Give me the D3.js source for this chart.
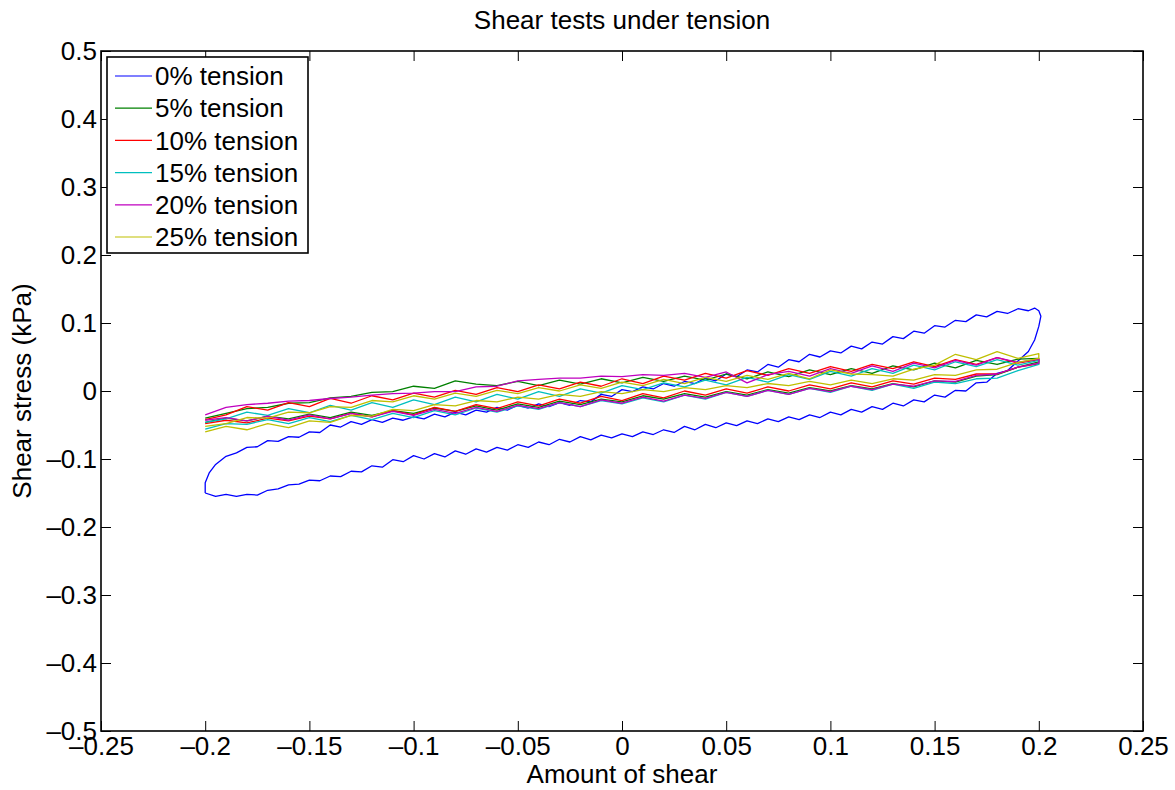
<!DOCTYPE html>
<html><head><meta charset="utf-8">
<script src="https://cdn.jsdelivr.net/npm/d3@7"></script>
<style>
body{margin:0;background:#fff}
text{font-family:"Liberation Sans",Arial,Helvetica,sans-serif;fill:#000}
</style>
</head><body>
<svg id="chart" width="1175" height="790"></svg>
<script>
// ---------- DATA ----------
const title = "Shear tests under tension";
const xLabel = "Amount of shear";
const yLabel = "Shear stress (kPa)";

const xTicks = [-0.25,-0.2,-0.15,-0.1,-0.05,0,0.05,0.1,0.15,0.2,0.25];
const xTickLabels = ["\u20130.25","\u20130.2","\u20130.15","\u20130.1","\u20130.05","0","0.05","0.1","0.15","0.2","0.25"];
const yTicks = [-0.5,-0.4,-0.3,-0.2,-0.1,0,0.1,0.2,0.3,0.4,0.5];
const yTickLabels = ["\u20130.5","\u20130.4","\u20130.3","\u20130.2","\u20130.1","0","0.1","0.2","0.3","0.4","0.5"];

const seriesNames = ["0% tension","5% tension","10% tension","15% tension","20% tension","25% tension"];
const seriesColors = ["#0000ff","#008000","#ff0000","#00bfbf","#bf00bf","#bfbf00"];

// 0% tension loop (shear, stress)
const tension0 = [
[-0.200,-0.150],[-0.195,-0.155],[-0.190,-0.152],[-0.185,-0.155],[-0.180,-0.152],[-0.175,-0.153],
[-0.170,-0.146],[-0.165,-0.144],[-0.160,-0.138],[-0.155,-0.137],[-0.150,-0.131],[-0.145,-0.132],
[-0.140,-0.125],[-0.135,-0.126],[-0.130,-0.118],[-0.125,-0.119],[-0.120,-0.110],[-0.115,-0.112],
[-0.110,-0.101],[-0.105,-0.104],[-0.100,-0.095],[-0.095,-0.100],[-0.090,-0.092],[-0.085,-0.097],
[-0.080,-0.088],[-0.075,-0.093],[-0.070,-0.085],[-0.065,-0.090],[-0.060,-0.083],[-0.055,-0.087],
[-0.050,-0.079],[-0.045,-0.083],[-0.040,-0.075],[-0.035,-0.079],[-0.030,-0.071],[-0.025,-0.075],
[-0.020,-0.067],[-0.015,-0.072],[-0.010,-0.065],[-0.005,-0.069],[0.000,-0.063],[0.005,-0.067],
[0.010,-0.060],[0.015,-0.064],[0.020,-0.057],[0.025,-0.061],[0.030,-0.052],[0.035,-0.057],
[0.040,-0.049],[0.045,-0.054],[0.050,-0.047],[0.055,-0.051],[0.060,-0.044],[0.065,-0.048],
[0.070,-0.041],[0.075,-0.045],[0.080,-0.038],[0.085,-0.042],[0.090,-0.035],[0.095,-0.039],
[0.100,-0.031],[0.105,-0.035],[0.110,-0.027],[0.115,-0.031],[0.120,-0.023],[0.125,-0.027],
[0.130,-0.018],[0.135,-0.022],[0.140,-0.013],[0.145,-0.016],[0.150,-0.006],[0.155,-0.009],
[0.160,0.001],[0.165,0.000],[0.170,0.012],[0.175,0.013],[0.180,0.026],[0.185,0.030],
[0.190,0.044],[0.195,0.058],[0.198,0.075],[0.200,0.095],[0.201,0.110],[0.200,0.118],[0.198,0.122],
[0.195,0.118],[0.190,0.121],[0.185,0.114],[0.180,0.117],[0.175,0.109],[0.170,0.112],
[0.165,0.102],[0.160,0.104],[0.155,0.094],[0.150,0.096],[0.145,0.085],[0.140,0.088],
[0.135,0.077],[0.130,0.080],[0.125,0.069],[0.120,0.072],[0.115,0.062],[0.110,0.066],
[0.105,0.056],[0.100,0.059],[0.095,0.050],[0.090,0.054],[0.085,0.043],[0.080,0.046],
[0.075,0.035],[0.070,0.039],[0.065,0.028],[0.060,0.031],[0.055,0.021],[0.050,0.025],
[0.045,0.015],[0.040,0.019],[0.035,0.011],[0.030,0.014],[0.025,0.007],[0.020,0.011],
[0.015,0.003],[0.010,0.006],[0.005,-0.001],[0.000,0.002],[-0.005,-0.008],[-0.010,-0.005],
[-0.015,-0.016],[-0.020,-0.014],[-0.025,-0.021],[-0.030,-0.017],[-0.035,-0.023],[-0.040,-0.019],
[-0.045,-0.025],[-0.050,-0.021],[-0.055,-0.028],[-0.060,-0.024],[-0.065,-0.031],[-0.070,-0.028],
[-0.075,-0.035],[-0.080,-0.031],[-0.085,-0.038],[-0.090,-0.034],[-0.095,-0.041],[-0.100,-0.038],
[-0.105,-0.043],[-0.110,-0.040],[-0.115,-0.046],[-0.120,-0.042],[-0.125,-0.049],[-0.130,-0.045],
[-0.135,-0.053],[-0.140,-0.050],[-0.145,-0.061],[-0.150,-0.060],[-0.155,-0.068],[-0.160,-0.067],
[-0.165,-0.074],[-0.170,-0.073],[-0.175,-0.082],[-0.180,-0.083],[-0.185,-0.091],[-0.190,-0.096],
[-0.195,-0.108],[-0.198,-0.120],[-0.200,-0.135],[-0.200,-0.150]
];

// shared shear grids for the tension loops
const shearLoad = [-0.20,-0.19,-0.18,-0.17,-0.16,-0.15,-0.14,-0.13,-0.12,-0.11,-0.10,-0.09,-0.08,-0.07,-0.06,-0.05,-0.04,-0.03,-0.02,-0.01,0.00,0.01,0.02,0.03,0.04,0.05,0.06,0.07,0.08,0.09,0.10,0.11,0.12,0.13,0.14,0.15,0.16,0.17,0.18,0.19,0.20];
const shearUnload = [0.20,0.19,0.18,0.17,0.16,0.15,0.14,0.13,0.12,0.11,0.10,0.09,0.08,0.07,0.06,0.05,0.04,0.03,0.02,0.01,0.00,-0.01,-0.02,-0.03,-0.04,-0.05,-0.06,-0.07,-0.08,-0.09,-0.10,-0.11,-0.12,-0.13,-0.14,-0.15,-0.16,-0.17,-0.18,-0.19,-0.20];

const stressLoad5 = [-0.046,-0.040,-0.044,-0.037,-0.041,-0.034,-0.039,-0.031,-0.036,-0.029,-0.033,-0.025,-0.030,-0.022,-0.028,-0.019,-0.024,-0.015,-0.020,-0.012,-0.016,-0.007,-0.012,-0.004,-0.009,-0.001,-0.006,0.002,-0.003,0.005,0.000,0.008,0.003,0.011,0.006,0.015,0.013,0.022,0.024,0.035,0.043];
const stressUnload5 = [0.048,0.047,0.039,0.045,0.034,0.041,0.031,0.037,0.026,0.033,0.024,0.031,0.021,0.028,0.018,0.025,0.016,0.022,0.014,0.020,0.012,0.018,0.010,0.016,0.008,0.014,0.008,0.010,0.015,0.004,0.007,-0.001,-0.002,-0.008,-0.010,-0.017,-0.018,-0.024,-0.026,-0.033,-0.040];

const stressLoad10 = [-0.048,-0.043,-0.047,-0.040,-0.044,-0.037,-0.041,-0.033,-0.038,-0.029,-0.035,-0.024,-0.030,-0.020,-0.026,-0.016,-0.022,-0.012,-0.018,-0.008,-0.014,-0.004,-0.010,0.000,-0.006,0.003,-0.003,0.006,0.000,0.009,0.003,0.012,0.006,0.015,0.010,0.019,0.017,0.025,0.025,0.035,0.040];
const stressUnload10 = [0.046,0.041,0.049,0.039,0.046,0.036,0.043,0.033,0.039,0.029,0.036,0.026,0.033,0.023,0.030,0.019,0.026,0.016,0.022,0.011,0.018,0.007,0.013,0.003,0.009,-0.001,0.005,-0.005,0.001,-0.009,-0.003,-0.013,-0.007,-0.018,-0.011,-0.023,-0.017,-0.028,-0.023,-0.035,-0.042];

const stressLoad15 = [-0.056,-0.048,-0.049,-0.042,-0.048,-0.039,-0.045,-0.036,-0.042,-0.033,-0.039,-0.029,-0.035,-0.025,-0.031,-0.022,-0.027,-0.017,-0.023,-0.014,-0.019,-0.010,-0.016,-0.006,-0.012,-0.002,-0.008,0.001,-0.005,0.004,-0.002,0.007,0.001,0.010,0.004,0.013,0.011,0.018,0.019,0.030,0.039];
const stressUnload15 = [0.045,0.038,0.046,0.036,0.043,0.031,0.038,0.026,0.033,0.022,0.029,0.017,0.024,0.013,0.020,0.009,0.016,0.006,0.012,0.002,0.008,-0.003,0.003,-0.008,-0.001,-0.012,-0.005,-0.016,-0.009,-0.020,-0.013,-0.024,-0.017,-0.028,-0.021,-0.032,-0.026,-0.036,-0.031,-0.041,-0.046];

const stressLoad20 = [-0.043,-0.039,-0.044,-0.037,-0.043,-0.035,-0.041,-0.033,-0.038,-0.030,-0.036,-0.027,-0.033,-0.024,-0.030,-0.021,-0.026,-0.017,-0.023,-0.013,-0.018,-0.009,-0.015,-0.006,-0.011,-0.002,-0.008,0.001,-0.005,0.004,-0.001,0.007,0.002,0.010,0.007,0.015,0.014,0.023,0.025,0.035,0.041];
const stressUnload20 = [0.047,0.042,0.049,0.038,0.045,0.034,0.041,0.029,0.037,0.026,0.033,0.022,0.029,0.024,0.012,0.028,0.020,0.026,0.023,0.024,0.021,0.022,0.019,0.019,0.017,0.015,0.007,0.006,-0.001,-0.001,-0.003,-0.004,-0.006,-0.009,-0.011,-0.014,-0.015,-0.018,-0.020,-0.024,-0.035];

const stressLoad25 = [-0.060,-0.052,-0.057,-0.048,-0.054,-0.044,-0.046,-0.036,-0.037,-0.027,-0.029,-0.020,-0.022,-0.014,-0.016,-0.009,-0.012,-0.005,-0.008,-0.001,-0.004,0.002,-0.001,0.005,0.002,0.008,0.005,0.011,0.008,0.014,0.009,0.016,0.011,0.018,0.016,0.024,0.023,0.031,0.032,0.042,0.048];
const stressUnload25 = [0.055,0.048,0.058,0.046,0.054,0.038,0.032,0.022,0.024,0.025,0.031,0.018,0.026,0.017,0.023,0.014,0.020,0.011,0.017,0.008,0.013,0.004,0.009,0.000,0.005,-0.004,0.001,-0.008,-0.003,-0.012,-0.007,-0.016,-0.014,-0.024,-0.023,-0.032,-0.031,-0.040,-0.039,-0.048,-0.052];

// ---------- BUILD ----------
function loop(load, unload){
  const a = shearLoad.map((s,i)=>[s, load[i]]);
  const b = shearUnload.map((s,i)=>[s, unload[i]]);
  return a.concat(b).filter(p=>p[1]!==undefined);
}
const seriesData = [
  tension0,
  loop(stressLoad5, stressUnload5),
  loop(stressLoad10, stressUnload10),
  loop(stressLoad15, stressUnload15),
  loop(stressLoad20, stressUnload20),
  loop(stressLoad25, stressUnload25)
];

const svg = d3.select("#chart");
const L = 101, R = 1143, T = 51, B = 731;
const x = d3.scaleLinear().domain([-0.25,0.25]).range([L,R]);
const y = d3.scaleLinear().domain([-0.5,0.5]).range([B,T]);
const fs = 26;

// data lines
const line = d3.line().x(d=>x(d[0])).y(d=>y(d[1]));
const plot = svg.append("g");
seriesData.forEach((pts,i)=>{
  plot.append("path").attr("d", line(pts))
    .attr("fill","none").attr("stroke",seriesColors[i])
    .attr("stroke-width",1.3).attr("stroke-linejoin","round");
});

// axes
function styleAxis(g){
  g.select(".domain").remove();
  g.selectAll(".tick line").attr("stroke","#000").attr("stroke-width",1);
  g.selectAll(".tick text").attr("font-size",fs).attr("font-family",'"Liberation Sans",Arial,sans-serif').attr("fill","#000");
}
svg.append("g").attr("transform",`translate(0,${B})`)
  .call(d3.axisBottom(x).tickValues(xTicks).tickFormat((d,i)=>xTickLabels[i]).tickSizeInner(-10).tickSizeOuter(0).tickPadding(6))
  .call(styleAxis);
svg.append("g").attr("transform",`translate(0,${T})`)
  .call(d3.axisTop(x).tickValues(xTicks).tickFormat("").tickSizeInner(-10).tickSizeOuter(0))
  .call(styleAxis);
svg.append("g").attr("transform",`translate(${L},0)`)
  .call(d3.axisLeft(y).tickValues(yTicks).tickFormat((d,i)=>yTickLabels[i]).tickSizeInner(-10).tickSizeOuter(0).tickPadding(4))
  .call(styleAxis);
svg.append("g").attr("transform",`translate(${R},0)`)
  .call(d3.axisRight(y).tickValues(yTicks).tickFormat("").tickSizeInner(-10).tickSizeOuter(0))
  .call(styleAxis);

svg.append("rect").attr("x",L).attr("y",T).attr("width",R-L).attr("height",B-T)
  .attr("fill","none").attr("stroke","#000").attr("stroke-width",1.6);

// titles
svg.append("text").attr("x",(L+R)/2).attr("y",29).attr("text-anchor","middle").attr("font-size",fs).text(title);
svg.append("text").attr("x",(L+R)/2).attr("y",783).attr("text-anchor","middle").attr("font-size",fs).text(xLabel);
svg.append("text").attr("transform",`translate(31,${(T+B)/2}) rotate(-90)`).attr("text-anchor","middle").attr("font-size",fs).text(yLabel);

// legend
const lg = svg.append("g");
lg.append("rect").attr("x",107).attr("y",57).attr("width",201).attr("height",196)
  .attr("fill","#fff").attr("stroke","#000").attr("stroke-width",1.6);
seriesNames.forEach((n,i)=>{
  const yy = 76 + i*32.2;
  lg.append("line").attr("x1",115).attr("x2",152).attr("y1",yy).attr("y2",yy)
    .attr("stroke",seriesColors[i]).attr("stroke-width",1.2);
  lg.append("text").attr("x",155).attr("y",yy).attr("dy","0.35em").attr("font-size",fs).text(n);
});
</script>
</body></html>
